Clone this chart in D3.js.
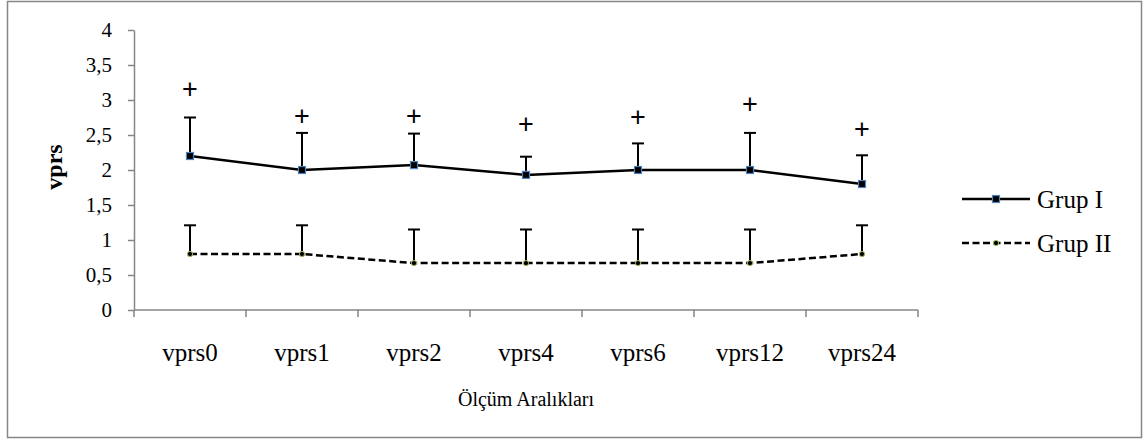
<html lang="en">
<head>
<meta charset="UTF-8">
<script src="https://d3js.org/d3.v7.min.js"></script>
<style>
    body { margin: 0; background: white; }
</style>
</head>
<body>
<div id="chart"></div>
<script>
    // values
    const categories = ["vprs0", "vprs1", "vprs2", "vprs4", "vprs6", "vprs12", "vprs24"];
    const grup1 = [2.2, 2.0, 2.07, 1.93, 2.0, 2.0, 1.8];
    const grup1Err = [0.55, 0.53, 0.45, 0.26, 0.38, 0.53, 0.41];
    const grup2 = [0.8, 0.8, 0.67, 0.67, 0.67, 0.67, 0.8];
    const grup2Err = [0.41, 0.41, 0.48, 0.48, 0.48, 0.48, 0.41];
    const plusY = [3.16, 2.77, 2.77, 2.66, 2.76, 2.94, 2.59];
    const yTicks = [0, 0.5, 1, 1.5, 2, 2.5, 3, 3.5, 4];
    const seriesNames = ["Grup I", "Grup II"];

    const W = 1146, H = 445;
    const axisColor = "#868686";
    const serif = "'Liberation Serif', 'Times New Roman', 'DejaVu Serif', serif";

    const svg = d3.select("#chart").append("svg")
        .attr("width", W)
        .attr("height", H);

    // outer frame
    svg.append("rect")
        .attr("x", 7.5).attr("y", 1.5)
        .attr("width", 1134).attr("height", 436)
        .attr("fill", "white")
        .attr("stroke", axisColor)
        .attr("stroke-width", 1.5);

    const x = d3.scaleBand().domain(categories).range([134, 918]).padding(0);
    const y = d3.scaleLinear().domain([0, 4]).range([310, 30]);
    const cx = d => x(d) + x.bandwidth() / 2;

    // y axis
    const yAxis = svg.append("g")
        .attr("transform", "translate(134,0)")
        .call(d3.axisLeft(y).tickValues(yTicks).tickSize(6).tickSizeOuter(0)
            .tickFormat(d => String(d).replace(".", ",")));
    yAxis.attr("font-family", null);
    yAxis.select(".domain").attr("stroke", axisColor).attr("stroke-width", 1.5);
    yAxis.selectAll(".tick line").attr("stroke", axisColor).attr("stroke-width", 1.5);
    yAxis.selectAll(".tick text")
        .attr("x", -22)
        .style("font-family", serif)
        .style("font-size", "21px")
        .attr("fill", "black");

    // x axis: line + ticks on band edges + centered labels
    const xg = svg.append("g");
    xg.append("line")
        .attr("x1", 134).attr("x2", 918)
        .attr("y1", y(0)).attr("y2", y(0))
        .attr("stroke", axisColor).attr("stroke-width", 1.5);
    const edges = categories.map(c => x(c)).concat([x.range()[1]]);
    xg.selectAll(".edge").data(edges).enter().append("line")
        .attr("x1", d => d).attr("x2", d => d)
        .attr("y1", y(0)).attr("y2", y(0) + 7)
        .attr("stroke", axisColor).attr("stroke-width", 1.5);
    xg.selectAll(".cat").data(categories).enter().append("text")
        .attr("x", d => cx(d))
        .attr("y", 361)
        .attr("text-anchor", "middle")
        .style("font-family", serif)
        .style("font-size", "25px")
        .text(d => d);

    // axis titles
    svg.append("text")
        .attr("x", 526).attr("y", 406)
        .attr("text-anchor", "middle")
        .style("font-family", serif)
        .style("font-size", "20px")
        .text("Ölçüm Aralıkları");
    svg.append("text")
        .attr("transform", "translate(62,167) rotate(-90)")
        .attr("text-anchor", "middle")
        .style("font-family", serif)
        .style("font-size", "24px")
        .style("font-weight", "bold")
        .text("vprs");

    // error bars (upper only)
    function errBars(vals, errs) {
        const g = svg.append("g").attr("stroke", "black").attr("stroke-width", 2);
        categories.forEach((c, i) => {
            const top = y(vals[i] + errs[i]);
            g.append("line").attr("x1", cx(c)).attr("x2", cx(c))
                .attr("y1", y(vals[i])).attr("y2", top);
            g.append("line").attr("x1", cx(c) - 6).attr("x2", cx(c) + 6)
                .attr("y1", top).attr("y2", top);
        });
    }
    errBars(grup1, grup1Err);
    errBars(grup2, grup2Err);

    const line = d3.line().x((d, i) => cx(categories[i])).y(d => y(d));

    svg.append("path")
        .attr("d", line(grup1))
        .attr("fill", "none")
        .attr("stroke", "black")
        .attr("stroke-width", 2.5);
    svg.append("path")
        .attr("d", line(grup2))
        .attr("fill", "none")
        .attr("stroke", "black")
        .attr("stroke-width", 2.5)
        .attr("stroke-dasharray", "7,3.5");

    // markers
    svg.selectAll(".m1").data(grup1).enter().append("rect")
        .attr("x", (d, i) => cx(categories[i]) - 3.5)
        .attr("y", d => y(d) - 3.5)
        .attr("width", 7).attr("height", 7)
        .attr("fill", "black")
        .attr("stroke", "#4F81BD").attr("stroke-width", 1.2);
    svg.selectAll(".m2").data(grup2).enter().append("circle")
        .attr("cx", (d, i) => cx(categories[i]))
        .attr("cy", d => y(d))
        .attr("r", 2.6)
        .attr("fill", "black")
        .attr("stroke", "#9BBB59").attr("stroke-width", 1);

    // "+" marks
    svg.selectAll(".plus").data(plusY).enter().append("text")
        .attr("x", (d, i) => cx(categories[i]))
        .attr("y", d => y(d))
        .attr("text-anchor", "middle")
        .attr("dominant-baseline", "central")
        .style("font-family", "'Liberation Sans', Arial, sans-serif")
        .style("font-size", "27px")
        .text("+");

    // legend
    const lg = svg.append("g");
    [199, 243].forEach((ly, k) => {
        lg.append("line")
            .attr("x1", 962).attr("x2", 1030)
            .attr("y1", ly).attr("y2", ly)
            .attr("stroke", "black").attr("stroke-width", 2.5)
            .attr("stroke-dasharray", k === 1 ? "7,3.5" : null);
        if (k === 0) {
            lg.append("rect").attr("x", 996 - 3.5).attr("y", ly - 3.5)
                .attr("width", 7).attr("height", 7)
                .attr("fill", "black").attr("stroke", "#4F81BD").attr("stroke-width", 1.2);
        } else {
            lg.append("circle").attr("cx", 996).attr("cy", ly).attr("r", 2.6)
                .attr("fill", "black").attr("stroke", "#9BBB59").attr("stroke-width", 1);
        }
        lg.append("text")
            .attr("x", 1037).attr("y", ly + 9)
            .style("font-family", serif)
            .style("font-size", "25px")
            .text(seriesNames[k]);
    });
</script>
</body>
</html>
